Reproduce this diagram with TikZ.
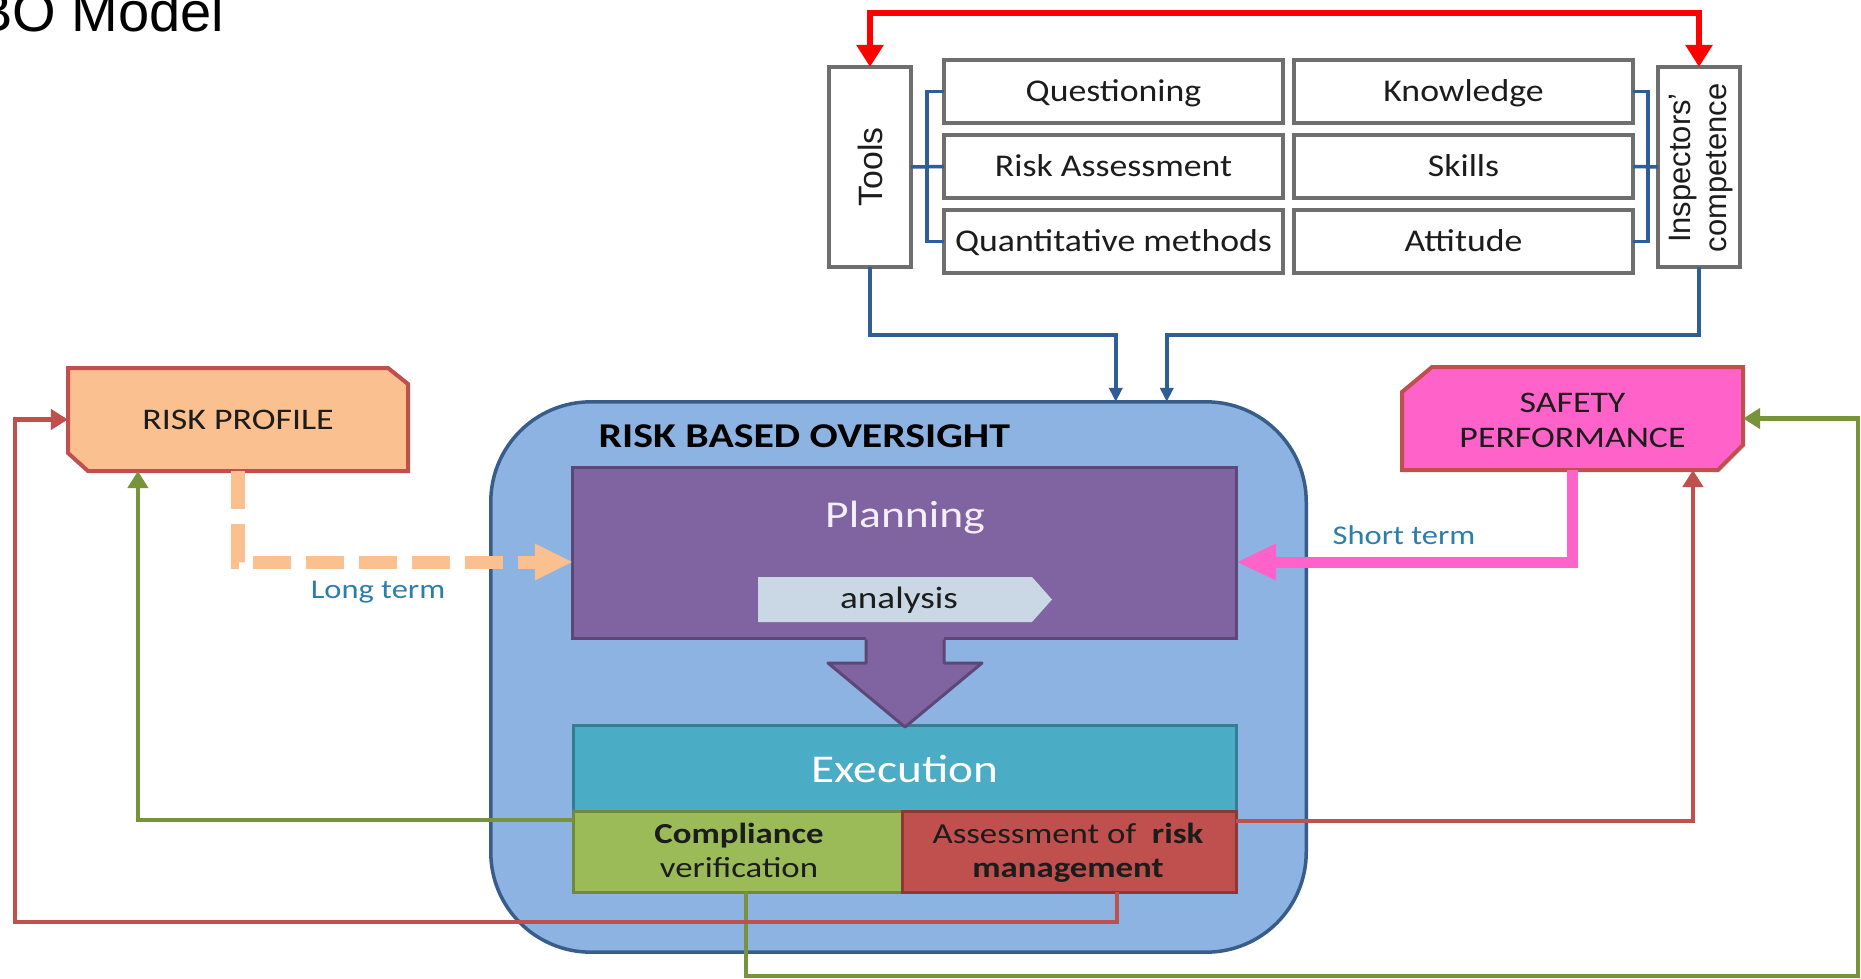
\documentclass[tikz,border=0pt]{standalone}
\usepackage{fontspec}
\setmainfont{Carlito}
\newfontfamily\diagfont[FakeStretch=1.2]{Carlito}
\newfontfamily\listfont[FakeStretch=1.13]{Carlito}
\newfontfamily\arialfont{Liberation Sans}
\usetikzlibrary{arrows.meta,calc}

\definecolor{rboFill}{HTML}{8DB3E2}
\definecolor{rboLine}{HTML}{385D8A}
\definecolor{planFill}{HTML}{8064A2}
\definecolor{planLine}{HTML}{5C4776}
\definecolor{planText}{HTML}{F3EEF8}
\definecolor{anaFill}{HTML}{C9D8E4}
\definecolor{execFill}{HTML}{4BACC6}
\definecolor{execLine}{HTML}{357D91}
\definecolor{compFill}{HTML}{9BBB59}
\definecolor{compLine}{HTML}{71893F}
\definecolor{assFill}{HTML}{C0504D}
\definecolor{assLine}{HTML}{8C3836}
\definecolor{profFill}{HTML}{FAC090}
\definecolor{frameRed}{HTML}{C0504D}
\definecolor{perfFill}{HTML}{FF63C9}
\definecolor{linkBlue}{HTML}{2F5D95}
\definecolor{termBlue}{HTML}{2E7EAA}
\definecolor{loopGreen}{HTML}{77933C}
\definecolor{boxGray}{HTML}{6E6E6E}
\definecolor{topRed}{HTML}{FF0000}
\definecolor{inkDark}{HTML}{1C1C1C}

\begin{document}
\begin{tikzpicture}[x=0.01cm, y=-0.01cm,
  topbox/.style={draw=boxGray, line width=0.035cm, fill=white, inner sep=0pt, outer sep=0pt,
    minimum width=3.39cm, minimum height=0.63cm, text=inkDark,
    font=\listfont\fontsize{9}{11}\selectfont, text height=0.2cm, text depth=0cm},
  sidebox/.style={draw=boxGray, line width=0.035cm, fill=white, inner sep=0pt, outer sep=0pt,
    minimum width=0.82cm, minimum height=2cm},
  sidetext/.style={rotate=90, inner sep=0pt, text=inkDark, align=center,
    font=\arialfont\fontsize{8.8}{10.2}\selectfont},
  bracket/.style={draw=linkBlue, line width=0.035cm},
  intolink/.style={bracket, arrows={-Triangle[length=0.14cm,width=0.13cm]}},
  redlink/.style={draw=topRed, line width=0.055cm,
    arrows={Triangle[length=0.22cm,width=0.26cm]-Triangle[length=0.22cm,width=0.26cm]}},
  stage/.style={inner sep=0pt, outer sep=0pt},
  backlink/.style={line width=0.045cm, arrows={-Triangle[length=0.17cm,width=0.20cm]}},
  textnode/.style={inner sep=0pt, anchor=base},
  longterm/.style={draw=profFill, line width=0.13cm, dash pattern=on 0.38cm off 0.15cm,
    arrows={-Triangle[length=0.38cm,width=0.34cm]}},
  shortterm/.style={draw=perfFill, line width=0.11cm,
    arrows={-Triangle[length=0.40cm,width=0.34cm]}},
  termlabel/.style={textnode, text=termBlue, font=\diagfont\fontsize{7.7}{9}\selectfont},
  boxlabel/.style={textnode, text=inkDark, font=\diagfont\fontsize{8.25}{10}\selectfont},
  sidelabel/.style={textnode, text=inkDark, font=\diagfont\fontsize{8.5}{10}\selectfont},
]
\useasboundingbox (0,0) rectangle (1861,979);
\clip (0,0) rectangle (1861,979);
\fill[white] (0,0) rectangle (1861,979);

% heading
\node[textnode, anchor=base east, font=\arialfont\fontsize{15.93}{19}\selectfont] (heading) at (225,31.5) {BO Model};

% ---------- tools and inspectors' competence ----------
\node[sidebox] (tools) at (870,167) {};
\node[sidetext, font=\arialfont\fontsize{9.6}{11}\selectfont] (toolslabel) at (tools.center) {Tools};
\node[sidebox] (insp) at (1699,167) {};
\node[sidetext] (insplabel) at (1701,168) {Inspectors’\\competence};

\node[topbox] (q1) at (1113.5,91.5) {Questioning};
\node[topbox] (q2) at (1113.5,166.5) {Risk Assessment};
\node[topbox] (q3) at (1113.5,241.5) {Quantitative methods};
\node[topbox] (k1) at (1463.5,91.5) {Knowledge};
\node[topbox] (k2) at (1463.5,166.5) {Skills};
\node[topbox] (k3) at (1463.5,241.5) {Attitude};

\draw[bracket] (tools.east) -- (q2.west);
\draw[bracket] (q1.west) -- ++(-17,0) |- (q3.west);
\draw[bracket] (k2.east) -- (insp.west);
\draw[bracket] (k1.east) -- ++(15,0) |- (k3.east);

\coordinate (redtop) at (1285,13);
\draw[redlink] (tools.north) |- (redtop) -| (insp.north);

% ---------- risk based oversight ----------
\node[stage, draw=rboLine, fill=rboFill, line width=0.035cm, rounded corners=1cm,
      minimum width=8.15cm, minimum height=5.5cm] (rbo) at (898.5,677) {};
\node[textnode, anchor=base west, text=black, font=\diagfont\bfseries\fontsize{9.9}{12}\selectfont]
      (rbotitle) at (598,447) {RISK BASED OVERSIGHT};

\node[stage, fill=planFill, draw=planLine, line width=0.03cm,
      minimum width=6.63cm, minimum height=1.70cm] (plan) at (904.5,553) {};
\node[textnode, text=planText, font=\diagfont\fontsize{10.8}{13}\selectfont] (plantitle) at (905,527) {Planning};
\fill[anaFill] (758,577) -- (1032,577) -- (1052,599.5) -- (1032,622) -- (758,622) -- cycle;
\node[textnode, text=inkDark, font=\diagfont\fontsize{8.8}{10.5}\selectfont] (analysis) at (899,608) {analysis};

\node[stage, fill=execFill, draw=execLine, line width=0.03cm,
      minimum width=6.62cm, minimum height=0.86cm] (exec) at (905,769) {};
\node[textnode, text=white, font=\diagfont\fontsize{11.2}{13}\selectfont] (exectitle) at (905,782) {Execution};

% planning flows into execution
\fill[planFill] (866,636) -- (944,636) -- (944,663) -- (982,663) -- (905,727) -- (828,663) -- (866,663) -- cycle;
\draw[planLine, line width=0.03cm, line join=round]
  (866,639.5) -- (866,663) -- (828,663) -- (905,727) -- (982,663) -- (944,663) -- (944,639.5);

\node[stage, fill=compFill, draw=compLine, line width=0.03cm,
      minimum width=3.29cm, minimum height=0.80cm] (comp) at (738.5,852) {};
\node[stage, fill=assFill, draw=assLine, line width=0.03cm,
      minimum width=3.33cm, minimum height=0.80cm] (assess) at (1069.5,852) {};
\node[boxlabel, font=\diagfont\bfseries\fontsize{8.25}{10}\selectfont] (comp1) at (739,843) {Compliance};
\node[boxlabel] (comp2) at (739,877) {verification};
\node[boxlabel] (ass1) at (1068,843) {Assessment of\ \ \textbf{risk}};
\node[boxlabel, font=\diagfont\bfseries\fontsize{8.25}{10}\selectfont] (ass2) at (1068,877) {management};

% ---------- risk profile and safety performance ----------
\filldraw[fill=profFill, draw=frameRed, line width=0.04cm]
  (68,368) -- (388,368) -- (408,384) -- (408,471) -- (88,471) -- (68,453) -- cycle;
\node[stage, minimum width=3.40cm, minimum height=1.03cm, text=inkDark,
      font=\diagfont\fontsize{8.5}{10}\selectfont, text height=0.19cm, text depth=0cm]
      (rp) at (238,419.5) {RISK PROFILE};

\filldraw[fill=perfFill, draw=frameRed, line width=0.04cm]
  (1432,367) -- (1743,367) -- (1743,445) -- (1718,470) -- (1402,470) -- (1402,392) -- cycle;
\node[stage, minimum width=3.41cm, minimum height=1.03cm] (sp) at (1572.5,418.5) {};
\node[sidelabel] (sp1) at (1572.5,412) {SAFETY};
\node[sidelabel] (sp2) at (1572.5,447) {PERFORMANCE};

% ---------- connectors ----------
\draw[intolink] (tools.south) |- ($(rbo.north west)+(625,-67)$) -- ($(rbo.north west)+(625,0)$);
\draw[intolink] (insp.south) |- ($(rbo.north west)+(676,-67)$) -- ($(rbo.north west)+(676,0)$);

\draw[longterm] (rp.south) |- ($(plan.west)+(0,9)$);
\draw[shortterm] (sp.south) |- ($(plan.east)+(0,9)$);
\node[termlabel] (longlabel) at (378,598) {Long term};
\node[termlabel] (shortlabel) at (1404,544) {Short term};

\draw[backlink, loopGreen] ($(comp.north west)+(0,8)$) -| ($(rp.south west)+(70,0)$);
\coordinate (greencorner) at (1858,976);
\draw[backlink, loopGreen] ($(comp.south west)+(172,0)$) |- (greencorner) |- (sp.east);
\coordinate (redcorner) at (15,922);
\draw[backlink, frameRed] ($(assess.south west)+(214,0)$) |- (redcorner) |- (rp.west);
\draw[backlink, frameRed] ($(assess.north east)+(0,9)$) -| ($(sp.south west)+(291,0)$);
\end{tikzpicture}
\end{document}
